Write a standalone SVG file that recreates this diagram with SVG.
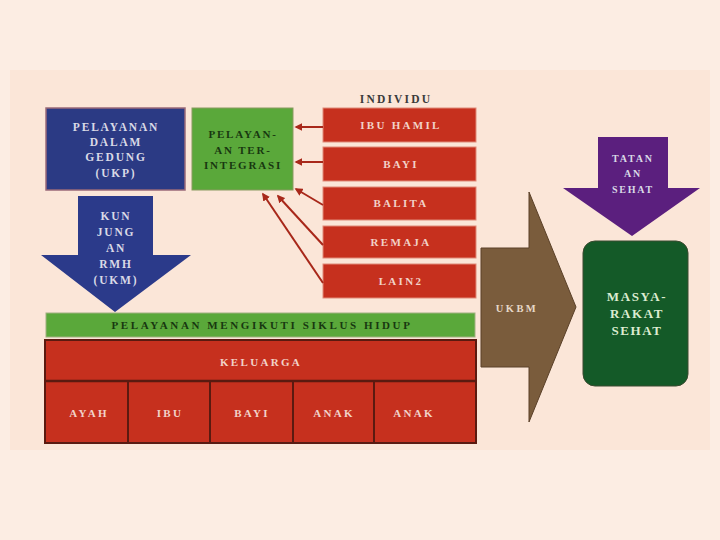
<svg xmlns="http://www.w3.org/2000/svg" width="720" height="540" viewBox="0 0 720 540">
<defs>
<style>
text{font-family:"Liberation Serif","DejaVu Serif",serif;font-weight:bold;text-anchor:middle;dominant-baseline:central;}
.lt{fill:#d9d9e6;font-size:11.5px;letter-spacing:1.8px;}
.dg{fill:#183810;font-size:11px;letter-spacing:1.8px;}
.rt{fill:#f2d2c8;font-size:11px;letter-spacing:2.3px;}
.red{fill:#c6301e;stroke:#e08a78;stroke-width:1;}
.conn{stroke:#a8281a;stroke-width:2;fill:none;marker-end:url(#ah);}
</style>
<marker id="ah" viewBox="0 0 10 10" refX="8" refY="5" markerWidth="4" markerHeight="4" orient="auto">
<path d="M0,0 L10,5 L0,10 Z" fill="#a8281a"/>
</marker>
</defs>
<rect width="720" height="540" fill="#fcede3"/>
<rect x="10" y="70" width="700" height="380" fill="#fbe6d8"/>

<g id="ukp">
<rect x="46" y="108" width="139" height="82" fill="#2b3a84" stroke="#9a6a78" stroke-width="1.5"/>
<text class="lt" x="116" y="127">PELAYANAN</text>
<text class="lt" x="116" y="142">DALAM</text>
<text class="lt" x="116" y="157">GEDUNG</text>
<text class="lt" x="116" y="173">(UKP)</text>
</g>

<g id="terintegrasi">
<rect x="192" y="108" width="101" height="82" fill="#5aa83a" stroke="#8a9a60" stroke-width="1"/>
<text class="dg" x="243" y="134">PELAYAN-</text>
<text class="dg" x="243" y="150">AN TER-</text>
<text class="dg" x="243" y="165">INTEGRASI</text>
</g>

<g id="ukm">
<path d="M78,196 H153 V255 H191 L115,312 L41,255 H78 Z" fill="#2b3a8a"/>
<text class="lt" x="116" y="216">KUN</text>
<text class="lt" x="116" y="232">JUNG</text>
<text class="lt" x="116" y="248">AN</text>
<text class="lt" x="116" y="264">RMH</text>
<text class="lt" x="116" y="280">(UKM)</text>
</g>

<g id="individu">
<text x="396" y="99" fill="#3a3a3a" style="font-size:11.5px;letter-spacing:2.2px">INDIVIDU</text>
</g>
<g id="ibuhamil">
<rect class="red" x="323" y="108" width="153" height="34"/>
<text class="rt" x="401" y="125">IBU HAMIL</text>
</g>
<g id="bayi1">
<rect class="red" x="323" y="147" width="153" height="34"/>
<text class="rt" x="401" y="164">BAYI</text>
</g>
<g id="balita">
<rect class="red" x="323" y="187" width="153" height="33"/>
<text class="rt" x="401" y="203">BALITA</text>
</g>
<g id="remaja">
<rect class="red" x="323" y="226" width="153" height="32"/>
<text class="rt" x="401" y="242">REMAJA</text>
</g>
<g id="lain2">
<rect class="red" x="323" y="264" width="153" height="34"/>
<text class="rt" x="401" y="281">LAIN2</text>
</g>

<g id="connectors">
<line class="conn" x1="323" y1="127" x2="296" y2="127"/>
<line class="conn" x1="323" y1="162" x2="296" y2="162"/>
<line class="conn" x1="323" y1="205" x2="296" y2="189"/>
<line class="conn" x1="323" y1="245" x2="278" y2="196"/>
<line class="conn" x1="323" y1="283" x2="263" y2="194"/>
</g>

<g id="siklus">
<rect x="46" y="313" width="429" height="24" fill="#5aa83a" stroke="#a0b080" stroke-width="1"/>
<text class="dg" x="262" y="325" style="letter-spacing:2.6px">PELAYANAN MENGIKUTI SIKLUS HIDUP</text>
</g>

<g id="keluarga">
<rect x="45" y="340" width="431" height="103" fill="#c6301e" stroke="#5a1a10" stroke-width="2"/>
<line x1="45" y1="381" x2="476" y2="381" stroke="#5a1a10" stroke-width="2.5"/>
<line x1="128" y1="381" x2="128" y2="443" stroke="#5a1a10" stroke-width="2"/>
<line x1="210" y1="381" x2="210" y2="443" stroke="#5a1a10" stroke-width="2"/>
<line x1="293" y1="381" x2="293" y2="443" stroke="#5a1a10" stroke-width="2"/>
<line x1="374" y1="381" x2="374" y2="443" stroke="#5a1a10" stroke-width="2"/>
<text class="rt" x="261" y="362">KELUARGA</text>
<text class="rt" x="89" y="413">AYAH</text>
<text class="rt" x="170" y="413">IBU</text>
<text class="rt" x="252" y="413">BAYI</text>
<text class="rt" x="334" y="413">ANAK</text>
<text class="rt" x="414" y="413">ANAK</text>
</g>

<g id="ukbm">
<path d="M481,248 H529 V192 L576,307 L529,422 V367 H481 Z" fill="#7a5c3c" stroke="#5a4028" stroke-width="1"/>
<text x="517" y="308" fill="#e6d8c8" style="font-size:10.5px;letter-spacing:2.4px">UKBM</text>
</g>

<g id="tatanan">
<path d="M598,137 H668 V188 H700 L632,236 L563,188 H598 Z" fill="#5b1f7e"/>
<text class="lt" x="633" y="158" style="font-size:10px;letter-spacing:1.8px">TATAN</text>
<text class="lt" x="633" y="173" style="font-size:10px;letter-spacing:1.8px">AN</text>
<text class="lt" x="633" y="189" style="font-size:10px;letter-spacing:1.8px">SEHAT</text>
</g>

<g id="masyarakat">
<rect x="583" y="241" width="105" height="145" rx="12" fill="#145a28" stroke="#3a4a30" stroke-width="1"/>
<text x="637" y="296" fill="#dcecd0" style="font-size:13px;letter-spacing:1.6px">MASYA-</text>
<text x="637" y="313" fill="#dcecd0" style="font-size:13px;letter-spacing:1.6px">RAKAT</text>
<text x="637" y="330" fill="#dcecd0" style="font-size:13px;letter-spacing:1.6px">SEHAT</text>
</g>
</svg>
